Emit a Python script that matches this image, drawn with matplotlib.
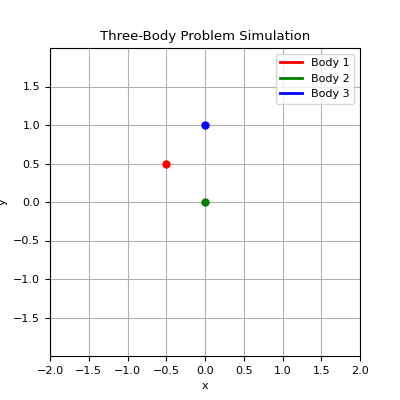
import matplotlib
matplotlib.use("Agg")
import matplotlib.pyplot as plt

plt.rcParams["font.size"] = 8

names = ["Body 1", "Body 2", "Body 3"]
colors = ["r", "g", "b"]
xs = [-0.5, 0.0, 0.0]
ys = [0.5, 0.0, 1.0]

fig, ax = plt.subplots(figsize=(4, 4), dpi=100)
for name, c, x, y in zip(names, colors, xs, ys):
    ax.plot([], [], color=c, linewidth=2, label=name)
    ax.plot([x], [y], "o", color=c, markersize=5)

ax.set_xlim(-2, 2)
ax.set_ylim(-2, 2)
ax.set_xticks([-2.0, -1.5, -1.0, -0.5, 0.0, 0.5, 1.0, 1.5, 2.0])
ax.set_yticks([-1.5, -1.0, -0.5, 0.0, 0.5, 1.0, 1.5])
ax.set_xlabel("x")
ax.set_ylabel("y")
ax.set_title("Three-Body Problem Simulation", fontsize=9.5)
ax.grid(True)
ax.legend(loc="upper right")
fig.savefig("out.png")
